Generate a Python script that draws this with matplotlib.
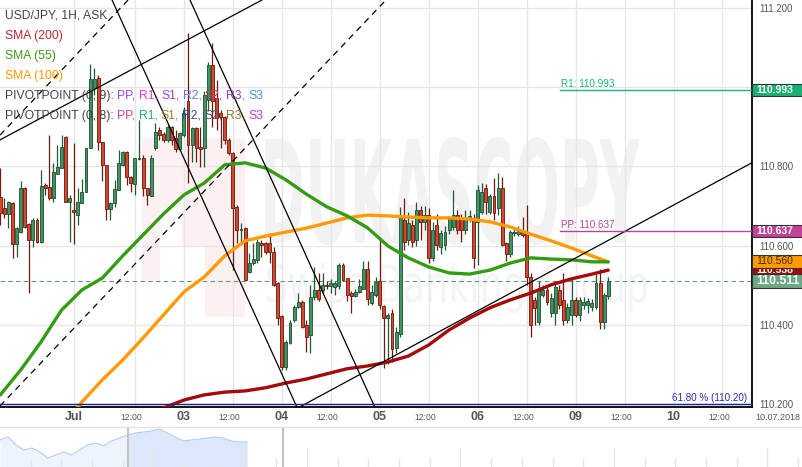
import matplotlib
matplotlib.use('Agg')
import matplotlib.pyplot as plt
import numpy as np
from matplotlib.patches import Rectangle, PathPatch
from matplotlib.lines import Line2D
from matplotlib.textpath import TextPath
from matplotlib.font_manager import FontProperties
from matplotlib.transforms import Affine2D, blended_transform_factory

plt.rcParams['font.family'] = ['Liberation Sans', 'DejaVu Sans']

# USD/JPY 1H ask candles, one per hour (weekend removed)
opens = [
    110.723, 110.694, 110.679, 110.707, 110.603, 110.635, 110.745, 110.654, 110.614, 110.665,
    110.608, 110.753, 110.748, 110.720, 110.781, 110.795, 110.873, 110.709, 110.690, 110.677,
    110.707, 110.736, 110.846, 110.997, 111.022, 110.861, 110.804, 110.692, 110.707, 110.740,
    110.804, 110.837, 110.774, 110.755, 110.819, 110.822, 110.745, 110.726, 110.846, 110.892,
    110.882, 110.867, 110.900, 110.871, 110.843, 110.879, 110.966, 110.854, 110.896, 110.848,
    110.846, 110.968, 111.056, 110.972, 110.934, 110.926, 110.867, 110.833, 110.698, 110.639,
    110.644, 110.534, 110.555, 110.564, 110.606, 110.606, 110.606, 110.585, 110.505, 110.421,
    110.294, 110.354, 110.412, 110.446, 110.458, 110.400, 110.374, 110.470, 110.488, 110.488,
    110.500, 110.497, 110.495, 110.497, 110.551, 110.518, 110.480, 110.472, 110.484, 110.490,
    110.541, 110.456, 110.476, 110.511, 110.447, 110.417, 110.430, 110.341, 110.378, 110.665,
    110.614, 110.652, 110.614, 110.690, 110.660, 110.677, 110.568, 110.652, 110.597, 110.602,
    110.639, 110.648, 110.677, 110.669, 110.639, 110.668, 110.665, 110.660, 110.686, 110.745,
    110.686, 110.724, 110.694, 110.745, 110.606, 110.580, 110.631, 110.629, 110.635, 110.635,
    110.520, 110.463, 110.408, 110.475, 110.488, 110.430, 110.429, 110.488, 110.463, 110.412,
    110.425, 110.463, 110.425, 110.450, 110.450, 110.446, 110.446, 110.505, 110.408, 110.472,
]
highs = [
    110.795, 110.720, 110.712, 110.709, 110.646, 110.762, 110.749, 110.656, 110.669, 110.669,
    110.791, 110.757, 110.879, 110.808, 110.854, 110.879, 110.876, 110.728, 110.858, 110.745,
    110.767, 110.846, 111.058, 111.048, 111.031, 110.861, 110.804, 110.711, 110.766, 110.841,
    110.839, 110.839, 110.776, 110.821, 110.917, 110.829, 110.746, 110.829, 110.909, 110.900,
    110.888, 110.905, 110.902, 110.892, 110.888, 110.951, 111.136, 110.900, 110.900, 110.900,
    110.990, 111.064, 111.111, 111.018, 110.942, 110.928, 110.871, 110.837, 110.703, 110.656,
    110.646, 110.581, 110.606, 110.616, 110.614, 110.610, 110.631, 110.597, 110.509, 110.425,
    110.361, 110.412, 110.450, 110.480, 110.462, 110.412, 110.500, 110.547, 110.530, 110.530,
    110.510, 110.515, 110.510, 110.556, 110.556, 110.518, 110.485, 110.490, 110.515, 110.560,
    110.561, 110.500, 110.520, 110.620, 110.450, 110.430, 110.440, 110.395, 110.698, 110.720,
    110.686, 110.665, 110.710, 110.700, 110.700, 110.695, 110.660, 110.680, 110.640, 110.650,
    110.675, 110.740, 110.690, 110.680, 110.690, 110.690, 110.680, 110.753, 110.758, 110.755,
    110.730, 110.770, 110.783, 110.774, 110.610, 110.640, 110.645, 110.650, 110.673, 110.703,
    110.530, 110.470, 110.510, 110.500, 110.495, 110.480, 110.510, 110.500, 110.530, 110.455,
    110.520, 110.470, 110.470, 110.470, 110.468, 110.465, 110.528, 110.540, 110.480, 110.520,
]
lows = [
    110.652, 110.669, 110.644, 110.568, 110.572, 110.632, 110.644, 110.480, 110.597, 110.606,
    110.606, 110.728, 110.715, 110.711, 110.780, 110.795, 110.711, 110.610, 110.603, 110.652,
    110.707, 110.736, 110.846, 110.980, 110.842, 110.762, 110.665, 110.665, 110.698, 110.740,
    110.800, 110.753, 110.736, 110.728, 110.816, 110.724, 110.703, 110.724, 110.841, 110.867,
    110.862, 110.862, 110.854, 110.837, 110.841, 110.875, 110.757, 110.812, 110.812, 110.799,
    110.799, 110.940, 110.900, 110.892, 110.846, 110.856, 110.829, 110.538, 110.606, 110.606,
    110.513, 110.530, 110.551, 110.557, 110.572, 110.580, 110.555, 110.497, 110.400, 110.286,
    110.286, 110.351, 110.407, 110.442, 110.392, 110.332, 110.330, 110.463, 110.460, 110.480,
    110.490, 110.480, 110.475, 110.490, 110.510, 110.460, 110.430, 110.470, 110.480, 110.490,
    110.450, 110.450, 110.470, 110.440, 110.290, 110.300, 110.305, 110.328, 110.370, 110.590,
    110.601, 110.596, 110.600, 110.613, 110.640, 110.555, 110.560, 110.590, 110.580, 110.590,
    110.630, 110.640, 110.630, 110.610, 110.630, 110.660, 110.543, 110.551, 110.680, 110.680,
    110.680, 110.665, 110.677, 110.600, 110.560, 110.570, 110.625, 110.625, 110.622, 110.500,
    110.370, 110.400, 110.400, 110.470, 110.450, 110.420, 110.400, 110.440, 110.400, 110.405,
    110.400, 110.420, 110.410, 110.440, 110.430, 110.435, 110.440, 110.390, 110.390, 110.465,
]
closes = [
    110.682, 110.679, 110.711, 110.603, 110.644, 110.745, 110.648, 110.614, 110.665, 110.608,
    110.751, 110.746, 110.720, 110.787, 110.798, 110.850, 110.711, 110.719, 110.684, 110.709,
    110.736, 110.846, 111.021, 111.021, 110.861, 110.804, 110.692, 110.707, 110.742, 110.808,
    110.836, 110.774, 110.757, 110.821, 110.822, 110.745, 110.728, 110.822, 110.888, 110.879,
    110.867, 110.900, 110.867, 110.843, 110.884, 110.934, 110.854, 110.896, 110.846, 110.843,
    110.980, 111.056, 110.964, 110.922, 110.926, 110.867, 110.833, 110.694, 110.639, 110.643,
    110.513, 110.555, 110.565, 110.610, 110.601, 110.585, 110.584, 110.501, 110.416, 110.294,
    110.357, 110.404, 110.446, 110.458, 110.395, 110.370, 110.470, 110.488, 110.465, 110.500,
    110.497, 110.505, 110.505, 110.551, 110.513, 110.475, 110.472, 110.484, 110.497, 110.541,
    110.465, 110.484, 110.508, 110.450, 110.417, 110.425, 110.340, 110.383, 110.673, 110.609,
    110.656, 110.610, 110.690, 110.660, 110.677, 110.568, 110.640, 110.602, 110.631, 110.635,
    110.669, 110.677, 110.639, 110.639, 110.669, 110.675, 110.568, 110.740, 110.736, 110.711,
    110.724, 110.682, 110.745, 110.602, 110.580, 110.635, 110.635, 110.637, 110.627, 110.520,
    110.400, 110.442, 110.488, 110.488, 110.458, 110.468, 110.496, 110.450, 110.412, 110.446,
    110.463, 110.425, 110.463, 110.458, 110.460, 110.455, 110.505, 110.408, 110.475, 110.511,
]

# moving averages (candle index, price)
sma55_idx = list(range(0, 150, 5)) + [149]
sma55 = [110.223, 110.286, 110.357, 110.437, 110.488, 110.518, 110.574, 110.627, 110.680, 110.728,
         110.758, 110.804, 110.809, 110.796, 110.766, 110.730, 110.698, 110.675, 110.645, 110.599,
         110.569, 110.546, 110.531, 110.528, 110.538, 110.556, 110.569, 110.566, 110.564, 110.559,
         110.559]
sma100_idx = [15, 19] + list(range(20, 150, 5)) + [149]
sma100 = [110.140, 110.192, 110.205, 110.261, 110.311, 110.367, 110.425, 110.483, 110.521, 110.574,
          110.612, 110.624, 110.634, 110.644, 110.657, 110.670, 110.677, 110.675, 110.672, 110.670,
          110.670, 110.667, 110.660, 110.647, 110.629, 110.612, 110.594, 110.574, 110.559]
sma200_idx = list(range(35, 150, 5)) + [149]
sma200 = [110.170, 110.190, 110.210, 110.223, 110.230, 110.233, 110.241, 110.253, 110.263, 110.276,
          110.289, 110.296, 110.306, 110.321, 110.349, 110.387, 110.417, 110.443, 110.463, 110.480,
          110.501, 110.516, 110.528, 110.538]

# drawn trend lines: two points each (candle index, price)
trend_solid = [((-0.07, 110.867), (64.1, 111.220)),
               ((127.4, 110.493), (167.3, 110.715)),
               ((27.4, 111.220), (72.7, 110.192)),
               ((46.5, 111.220), (91.8, 110.192))]
trend_dashed = [((-0.07, 110.879), (31.3, 111.220)),
                ((-0.07, 110.195), (94.5, 111.220))]

r1 = 110.993
pp = 110.637
fib618 = 110.20
last_price = 110.511
sma100_last = 110.560
sma200_last = 110.538
pivot_start = 137.2

tick_idx = [18, 33, 45, 57, 69, 81, 93, 105, 117, 129, 141, 153, 165, 177]
tick_txt = ['Jul', '12:00', '03', '12:00', '04', '12:00', '05', '12:00', '06', '12:00',
            '09', '12:00', '10', '12:00']
price_ticks = [110.2, 110.4, 110.6, 110.8, 111.0, 111.2]

# navigator strip (relative heights)
nav_level = [27, 30, 22, 17, 19, 15, 9, 12, 15, 12, 17, 22, 24, 21, 26, 29, 32, 34, 35, 36,
             38, 34, 30, 26, 27, 28, 29, 30, 29, 26, 25, 25]

W, H = 803, 467
fig = plt.figure(figsize=(W / 100, H / 100), dpi=100)
fig.patch.set_facecolor('white')
ax = fig.add_axes([0, 60 / H, 752 / W, 407 / H])
ax.set_xlim(-0.074, 184.24)
ax.set_ylim(110.1924, 111.2202)
ax.set_axisbelow(True)

for s in ['top', 'left']:
    ax.spines[s].set_visible(False)
for s in ['right', 'bottom']:
    ax.spines[s].set_color('black')
    ax.spines[s].set_linewidth(1.3)

ax.set_xticks(tick_idx)
ax.set_xticklabels([])
ax.set_yticks(price_ticks)
# 111.000 sits under the R1 box in the original, so its label stays empty
ax.set_yticklabels(['' if abs(v - r1) < 0.02 else '%.3f' % v for v in price_ticks])
ax.tick_params(axis='x', length=0)
ax.tick_params(axis='y', length=0, left=False, labelleft=False, right=False, labelright=True,
               pad=5, labelsize=7, labelcolor='#555555')
ax.grid(True, color='#e6e6e6', lw=1)

# watermark
def fit_text(s, x0, y0, x1, y1, color, weight):
    tp = TextPath((0, 0), s, size=1, prop=FontProperties(family='DejaVu Sans', weight=weight))
    bb = tp.get_extents()
    tr = Affine2D().translate(-bb.x0, -bb.y0).scale((x1 - x0) / bb.width, (y1 - y0) / bb.height).translate(x0, y0)
    ax.add_patch(PathPatch(tr.transform_path(tp), facecolor=color, lw=0, transform=ax.transAxes, zorder=0.2))

def pxbox(x0, y0, x1, y1):
    # pixel box (top-left origin) -> axes fraction rect
    return (x0 / 752, (407 - y1) / 407, (x1 - x0) / 752, (y1 - y0) / 407)

for b in [(142, 138, 245, 208), (142, 208, 160, 282), (205, 208, 245, 317), (182, 208, 205, 247)]:
    x, y, w, h = pxbox(*b)
    ax.add_patch(Rectangle((x, y), w, h, transform=ax.transAxes, facecolor='#fcf0f1', lw=0, zorder=0.1))
fit_text('DUKASCOPY', 265 / 752, (407 - 245) / 407, 640 / 752, (407 - 137) / 407, '#f2f2f2', 'bold')
fit_text('Swiss Banking Group', 267 / 752, (407 - 313) / 407, 647 / 752, (407 - 263) / 407, '#f4f4f4', 'normal')

# current price line
ax.axhline(last_price, color='#5e9c7a', lw=0.8, dashes=(4, 3), zorder=1)

# candles
idx = np.arange(len(opens))
o, hi, lo, c = map(np.array, (opens, highs, lows, closes))
up = c >= o
bot = np.minimum(o, c)
bh = np.maximum(np.abs(c - o), 0.0025)
ax.vlines(idx[up], lo[up], hi[up], color='#1f5a37', lw=0.9, zorder=2)
ax.vlines(idx[~up], lo[~up], hi[~up], color='#6b1b12', lw=0.9, zorder=2)
ax.bar(idx[up], bh[up], bottom=bot[up], width=0.72, color='#3f9461', edgecolor='#1f4d33', lw=0.6, zorder=2.1)
ax.bar(idx[~up], bh[~up], bottom=bot[~up], width=0.72, color='#da452c', edgecolor='#5e1a10', lw=0.6, zorder=2.1)

# SMAs
ax.plot(sma200_idx, sma200, color='#a50a0a', lw=2.4, zorder=3, solid_capstyle='round')
ax.plot(sma100_idx, sma100, color='#ff9a00', lw=2.4, zorder=3, solid_capstyle='round')
ax.plot(sma55_idx, sma55, color='#349c12', lw=2.4, zorder=3, solid_capstyle='round')

# trend lines
for p1, p2 in trend_solid:
    ax.axline(p1, p2, color='black', lw=0.9, zorder=4)
for p1, p2 in trend_dashed:
    ax.axline(p1, p2, color='black', lw=0.9, dashes=(5, 4), zorder=4)

# pivot / fib lines
ax.plot([pivot_start, 184.24], [r1, r1], color='#1fb27a', lw=1, zorder=4)
ax.plot([pivot_start, 184.24], [pp, pp], color='#b8449a', lw=1, zorder=4)
ax.axhline(fib618, color='#1c1c9c', lw=1, zorder=4)
ax.text(pivot_start + 0.2, r1 + 0.003, 'R1: %.3f' % r1, color='#1fb27a', fontsize=7.1, va='bottom', zorder=5)
ax.text(pivot_start + 0.2, pp + 0.003, 'PP: %.3f' % pp, color='#b8449a', fontsize=7.1, va='bottom', zorder=5)
ax.text(183.0, fib618 + 0.003, '61.80 % (110.20)', color='#2d2db0', fontsize=7.1, ha='right', va='bottom', zorder=5)

# value boxes on the price scale
bt = blended_transform_factory(ax.transAxes, ax.transData)
bw = 51 / 752
def price_box(v, fc, tc, fs=7.5, hh=0.0155, weight='bold'):
    ax.add_patch(Rectangle((1.0, v - hh), bw, 2 * hh, transform=bt, facecolor=fc, edgecolor='#333333',
                           lw=0.8, clip_on=False, zorder=6))
    ax.text(1.0 + 4 / 752, v, '%.3f' % v, transform=bt, color=tc, fontsize=fs, fontweight=weight,
            va='center', ha='left', clip_on=False, zorder=6)

price_box(r1, '#19b074', 'white')
price_box(pp, '#c2419a', 'white')
price_box(sma200_last, '#a50a0a', 'white')
price_box(sma100_last, '#ff9a00', '#3a2a00', weight='normal')
price_box(last_price, '#6aa984', 'white', fs=8.8, hh=0.017)

# time axis labels
xt = ax.get_xaxis_transform()
for t, s in zip(tick_idx, tick_txt):
    if s == '12:00':
        ax.text(t - 0.9, -0.025, s, transform=xt, ha='center', va='center', fontsize=6.2,
                color='#555555', clip_on=False)
    else:
        ax.text(t, -0.025, s, transform=xt, ha='center', va='center', fontsize=9,
                fontweight='bold', color='#555555', clip_on=False)
fig.text(778 / W, 1 - 417 / H, '10.07.2018', ha='center', va='center', fontsize=6.5, color='#555555')

# legend text (top left)
renderer = fig.canvas.get_renderer()
def adv(s, fs):
    if not s:
        return 0
    fp = FontProperties(family='Liberation Sans', size=fs)
    w1 = renderer.get_text_width_height_descent(s + '|', fp, ismath=False)[0]
    w2 = renderer.get_text_width_height_descent('|', fp, ismath=False)[0]
    return w1 - w2

def legend_line(py, parts, fs=8.7):
    full = ''
    for s, col in parts:
        lead = len(s) - len(s.lstrip())
        x = 5 + adv(full + s[:lead], fs)
        fig.text(x / W, 1 - py / H, s.lstrip(), color=col, fontsize=fs, va='center', ha='left')
        full += s

gray = '#444444'
legend_line(15, [('USD/JPY, 1H, ASK', gray)])
legend_line(36, [('SMA (200)', '#c0282a')])
legend_line(56, [('SMA (55)', '#3a9a1c')])
legend_line(76, [('SMA (100)', '#ff9a00')])
legend_line(96, [('PIVOTPOINT (0, 9):', gray), (' PP,', '#a23fd6'), (' R1,', '#e13be6'),
                 (' S1,', '#a23fc8'), (' R2,', '#7171d9'), (' S2,', '#c2345e'),
                 (' R3,', '#9a3ccc'), (' S3', '#3d9fc4')])
legend_line(116, [('PIVOTPOINT (0, 8):', gray), (' PP,', '#d6418c'), (' R1,', '#22b074'),
                  (' S1,', '#a2812f'), (' R2,', '#2f4ea6'), (' S2,', '#6e4a6e'),
                  (' R3,', '#a0742c'), (' S3', '#c83ec8')])

# separator and navigator
fig.add_artist(Line2D([0, 1], [40 / H, 40 / H], color='#e3e3e3', lw=1))
nav = fig.add_axes([0, 0, 1, 39 / H])
nav.set_xlim(0, 1)
nav.set_ylim(0, 39)
nav.axis('off')
nx = np.linspace(0, 247 / W, len(nav_level))
for k in range(1, 27):
    xx = k * 30.7 / W
    top = 19 if k % 5 == 0 else 8
    nav.plot([xx, xx], [0, top], color='#e6e6e6', lw=1)
nav.fill_between(nx, 0, nav_level, color='#eef4fe', lw=0)
sel = nav.fill_between(nx, 0, nav_level, color='#dce7fb', lw=0)
sel.set_clip_path(Rectangle((128 / W, 0), 155 / W, 39, transform=nav.transData))
nav.plot(nx, nav_level, color='#b3cbf2', lw=0.8)
for xx in [128 / W, 283 / W]:
    nav.plot([xx, xx], [0, 39], color='#c4c4c4', lw=1.6)

fig.savefig('out.png', dpi=100)
